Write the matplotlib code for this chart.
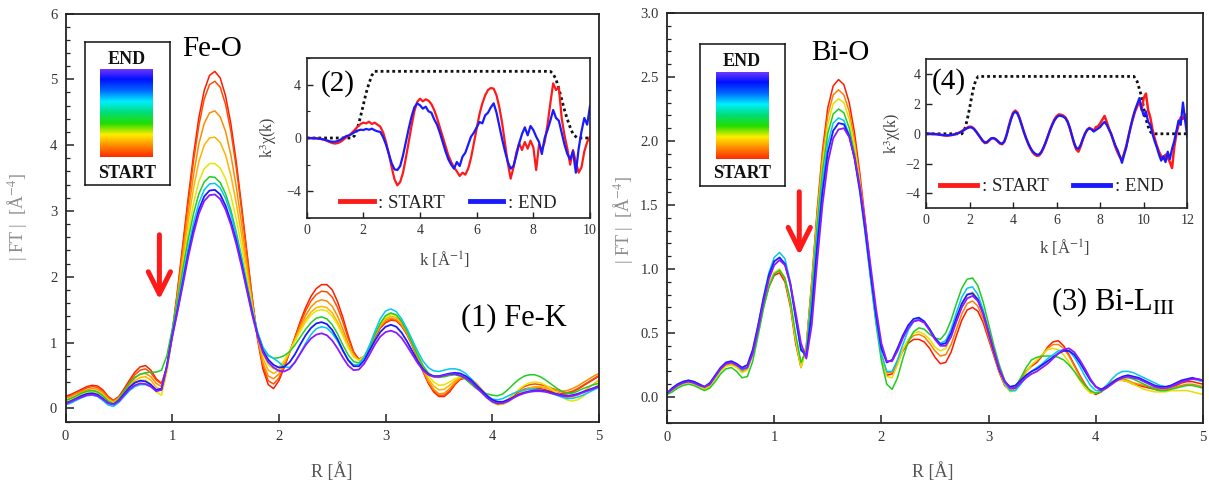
import numpy as np
import matplotlib
matplotlib.use("Agg")
import matplotlib.pyplot as plt
from matplotlib.colors import LinearSegmentedColormap
from matplotlib.lines import Line2D
from matplotlib.ticker import MultipleLocator, FormatStrFormatter

plt.rcParams['font.family'] = ['Liberation Serif', 'DejaVu Serif']
plt.rcParams['mathtext.fontset'] = 'stix'

# ---------------- data ----------------
# R grid for the Fourier transforms, 0..5 A in 0.05 steps
r_grid = np.round(np.arange(0, 5.0001, 0.05), 2)
# k grids of the two inset spectra, 0.1 steps
k_fe = np.round(np.arange(0, 10.0001, 0.1), 1)
k_bi = np.round(np.arange(0, 12.0001, 0.1), 1)

# Fe-K |FT|, START (red) -> END (violet)
fe_ft_1 = [0.18,0.21,0.25,0.29,0.33,0.35,0.34,0.28,0.18,0.12,
           0.18,0.30,0.43,0.55,0.63,0.65,0.58,0.45,0.38,0.62,
           1.15,1.80,2.50,3.20,3.85,4.42,4.83,5.06,5.12,5.02,
           4.75,4.32,3.75,3.08,2.38,1.68,1.05,0.60,0.36,0.30,
           0.42,0.62,0.85,1.08,1.32,1.53,1.70,1.82,1.88,1.88,
           1.80,1.62,1.38,1.10,0.86,0.74,0.78,0.92,1.08,1.22,
           1.30,1.34,1.33,1.25,1.12,0.95,0.76,0.56,0.38,0.25,
           0.18,0.18,0.25,0.36,0.44,0.46,0.43,0.36,0.27,0.18,
           0.11,0.07,0.08,0.13,0.19,0.25,0.29,0.31,0.31,0.30,
           0.28,0.26,0.24,0.22,0.22,0.25,0.29,0.34,0.39,0.44,
           0.49]
fe_ft_2 = [0.16,0.19,0.23,0.27,0.31,0.33,0.32,0.26,0.17,0.11,
           0.17,0.28,0.40,0.51,0.58,0.60,0.54,0.43,0.37,0.62,
           1.14,1.77,2.45,3.13,3.76,4.30,4.70,4.92,4.97,4.88,
           4.62,4.21,3.66,3.02,2.34,1.67,1.07,0.65,0.42,0.37,
           0.46,0.64,0.85,1.07,1.29,1.48,1.63,1.73,1.78,1.77,
           1.69,1.53,1.31,1.06,0.85,0.75,0.79,0.93,1.09,1.23,
           1.31,1.35,1.34,1.27,1.14,0.97,0.78,0.58,0.40,0.27,
           0.20,0.20,0.27,0.37,0.45,0.47,0.44,0.37,0.28,0.19,
           0.12,0.08,0.09,0.14,0.21,0.28,0.33,0.36,0.37,0.36,
           0.34,0.31,0.28,0.25,0.24,0.26,0.30,0.35,0.40,0.45,
           0.50]
fe_ft_3 = [0.15,0.18,0.22,0.25,0.28,0.30,0.29,0.24,0.15,0.10,
           0.16,0.26,0.37,0.46,0.52,0.53,0.48,0.38,0.33,0.60,
           1.12,1.72,2.35,2.98,3.55,4.02,4.33,4.49,4.52,4.43,
           4.21,3.85,3.37,2.81,2.20,1.60,1.07,0.69,0.49,0.45,
           0.52,0.67,0.86,1.05,1.24,1.41,1.54,1.62,1.65,1.63,
           1.55,1.40,1.20,0.98,0.80,0.73,0.79,0.94,1.11,1.25,
           1.34,1.37,1.35,1.27,1.13,0.96,0.77,0.58,0.41,0.29,
           0.22,0.23,0.30,0.39,0.46,0.48,0.45,0.38,0.29,0.20,
           0.12,0.07,0.07,0.11,0.17,0.23,0.28,0.31,0.32,0.32,
           0.31,0.29,0.27,0.26,0.27,0.30,0.34,0.39,0.44,0.49,
           0.53]
fe_ft_4 = [0.12,0.15,0.19,0.23,0.26,0.27,0.26,0.21,0.13,0.09,
           0.15,0.24,0.34,0.42,0.47,0.48,0.43,0.32,0.28,0.58,
           1.10,1.67,2.26,2.83,3.35,3.75,4.00,4.11,4.12,4.04,
           3.85,3.54,3.12,2.63,2.10,1.57,1.10,0.76,0.58,0.53,
           0.58,0.70,0.86,1.03,1.20,1.35,1.46,1.53,1.55,1.53,
           1.45,1.31,1.13,0.94,0.79,0.73,0.79,0.94,1.11,1.26,
           1.36,1.40,1.38,1.30,1.16,0.99,0.80,0.61,0.45,0.34,
           0.28,0.29,0.35,0.42,0.47,0.48,0.44,0.37,0.28,0.19,
           0.11,0.06,0.06,0.10,0.16,0.22,0.27,0.31,0.33,0.33,
           0.31,0.28,0.24,0.20,0.17,0.17,0.20,0.25,0.31,0.37,
           0.43]
fe_ft_5 = [0.10,0.13,0.17,0.21,0.24,0.25,0.24,0.19,0.12,0.08,
           0.14,0.23,0.32,0.39,0.43,0.43,0.37,0.25,0.20,0.55,
           1.08,1.62,2.17,2.68,3.12,3.45,3.64,3.72,3.72,3.65,
           3.49,3.23,2.88,2.46,2.00,1.54,1.13,0.83,0.66,0.60,
           0.63,0.73,0.87,1.02,1.17,1.31,1.42,1.48,1.50,1.48,
           1.40,1.27,1.10,0.92,0.78,0.73,0.79,0.94,1.12,1.28,
           1.39,1.43,1.41,1.33,1.19,1.02,0.83,0.65,0.50,0.40,
           0.35,0.36,0.40,0.45,0.48,0.47,0.42,0.34,0.25,0.16,
           0.09,0.05,0.07,0.13,0.21,0.29,0.35,0.39,0.40,0.39,
           0.35,0.30,0.24,0.18,0.13,0.11,0.13,0.18,0.24,0.30,
           0.36]
fe_ft_6 = [0.12,0.15,0.19,0.23,0.26,0.27,0.25,0.19,0.11,0.07,
           0.14,0.26,0.38,0.47,0.52,0.54,0.55,0.55,0.58,0.80,
           1.20,1.65,2.12,2.57,2.96,3.26,3.44,3.52,3.51,3.43,
           3.26,3.01,2.68,2.30,1.89,1.49,1.15,0.92,0.80,0.76,
           0.77,0.80,0.86,0.96,1.08,1.20,1.30,1.37,1.39,1.36,
           1.27,1.13,0.96,0.81,0.71,0.69,0.77,0.93,1.12,1.29,
           1.41,1.45,1.42,1.32,1.17,0.99,0.81,0.65,0.54,0.48,
           0.47,0.48,0.50,0.51,0.49,0.44,0.37,0.30,0.25,0.22,
           0.20,0.19,0.22,0.29,0.37,0.44,0.49,0.51,0.51,0.48,
           0.43,0.37,0.31,0.26,0.23,0.23,0.26,0.30,0.33,0.36,
           0.38]
fe_ft_7 = [0.05,0.08,0.12,0.16,0.19,0.20,0.18,0.12,0.05,0.03,
           0.09,0.18,0.27,0.33,0.36,0.36,0.33,0.27,0.30,0.65,
           1.12,1.55,2.00,2.44,2.82,3.12,3.32,3.41,3.42,3.35,
           3.19,2.95,2.64,2.28,1.88,1.49,1.16,0.93,0.81,0.76,
           0.70,0.63,0.62,0.70,0.84,0.99,1.12,1.21,1.24,1.22,
           1.14,1.02,0.87,0.74,0.66,0.67,0.78,0.96,1.17,1.36,
           1.48,1.51,1.47,1.36,1.21,1.04,0.87,0.72,0.62,0.57,
           0.56,0.58,0.60,0.60,0.58,0.53,0.45,0.36,0.27,0.19,
           0.14,0.13,0.15,0.19,0.23,0.26,0.28,0.29,0.29,0.28,
           0.26,0.23,0.20,0.17,0.15,0.15,0.17,0.20,0.24,0.28,
           0.32]
fe_ft_8 = [0.08,0.11,0.15,0.19,0.22,0.23,0.21,0.15,0.08,0.06,
           0.12,0.22,0.32,0.39,0.42,0.41,0.36,0.28,0.30,0.65,
           1.10,1.50,1.92,2.35,2.72,3.02,3.22,3.31,3.32,3.25,
           3.08,2.84,2.55,2.20,1.82,1.45,1.12,0.88,0.74,0.66,
           0.62,0.63,0.70,0.82,0.97,1.11,1.22,1.29,1.31,1.28,
           1.19,1.05,0.88,0.73,0.64,0.64,0.73,0.88,1.03,1.16,
           1.24,1.27,1.24,1.15,1.02,0.87,0.72,0.60,0.52,0.49,
           0.49,0.51,0.53,0.54,0.53,0.49,0.43,0.35,0.27,0.19,
           0.13,0.10,0.10,0.13,0.17,0.21,0.24,0.26,0.27,0.27,
           0.26,0.24,0.22,0.20,0.19,0.20,0.22,0.25,0.28,0.31,
           0.34]
fe_ft_9 = [0.07,0.10,0.14,0.17,0.20,0.21,0.19,0.14,0.08,0.06,
           0.11,0.20,0.29,0.35,0.38,0.37,0.33,0.26,0.28,0.63,
           1.08,1.47,1.88,2.30,2.66,2.96,3.15,3.24,3.25,3.18,
           3.02,2.79,2.50,2.16,1.79,1.42,1.10,0.85,0.70,0.62,
           0.57,0.56,0.60,0.70,0.83,0.96,1.06,1.12,1.14,1.11,
           1.03,0.91,0.77,0.65,0.58,0.59,0.68,0.82,0.97,1.09,
           1.16,1.18,1.15,1.07,0.95,0.82,0.69,0.58,0.51,0.48,
           0.48,0.50,0.52,0.52,0.50,0.46,0.40,0.32,0.24,0.16,
           0.10,0.07,0.08,0.11,0.16,0.20,0.23,0.25,0.26,0.26,
           0.25,0.23,0.21,0.19,0.18,0.19,0.21,0.24,0.27,0.30,
           0.33]
fe_colors = ['#ff1a00', '#ff4d00', '#ff8c00', '#ffb300', '#e6e600',
             '#22cc22', '#00c8f0', '#1a1aff', '#8c1aff']

# Bi-LIII |FT|, START (red) -> END (violet)
bi_ft_1 = [0.03,0.06,0.09,0.11,0.12,0.11,0.09,0.07,0.09,0.15,
           0.21,0.25,0.26,0.24,0.20,0.22,0.34,0.52,0.71,0.86,
           0.95,0.97,0.90,0.71,0.42,0.23,0.40,0.90,1.45,1.92,
           2.26,2.43,2.48,2.44,2.30,2.06,1.74,1.37,0.98,0.62,
           0.32,0.17,0.18,0.27,0.36,0.42,0.45,0.45,0.43,0.38,
           0.31,0.26,0.27,0.35,0.48,0.60,0.68,0.70,0.67,0.58,
           0.45,0.32,0.19,0.09,0.05,0.07,0.13,0.20,0.24,0.27,
           0.32,0.39,0.43,0.44,0.40,0.33,0.25,0.17,0.10,0.04,
           0.02,0.04,0.08,0.11,0.13,0.13,0.12,0.10,0.09,0.08,
           0.07,0.06,0.05,0.05,0.07,0.09,0.11,0.12,0.12,0.11,
           0.10]
bi_ft_2 = [0.03,0.06,0.09,0.11,0.12,0.11,0.09,0.07,0.09,0.15,
           0.21,0.25,0.26,0.24,0.20,0.22,0.34,0.53,0.73,0.88,
           0.97,0.99,0.92,0.73,0.44,0.24,0.40,0.89,1.43,1.88,
           2.20,2.36,2.40,2.36,2.23,2.00,1.70,1.34,0.97,0.62,
           0.34,0.19,0.19,0.27,0.37,0.44,0.48,0.49,0.47,0.42,
           0.36,0.32,0.33,0.41,0.53,0.65,0.73,0.75,0.71,0.61,
           0.47,0.33,0.20,0.10,0.05,0.07,0.13,0.20,0.25,0.28,
           0.33,0.38,0.41,0.41,0.38,0.32,0.24,0.16,0.09,0.04,
           0.03,0.05,0.09,0.12,0.14,0.14,0.13,0.11,0.10,0.09,
           0.08,0.07,0.06,0.06,0.07,0.08,0.09,0.10,0.10,0.09,
           0.08]
bi_ft_3 = [0.02,0.05,0.08,0.10,0.11,0.10,0.08,0.06,0.08,0.14,
           0.20,0.24,0.25,0.23,0.19,0.21,0.33,0.52,0.72,0.88,
           0.97,1.00,0.93,0.74,0.45,0.23,0.37,0.85,1.38,1.82,
           2.13,2.29,2.33,2.30,2.17,1.96,1.67,1.32,0.95,0.60,
           0.32,0.16,0.15,0.25,0.37,0.45,0.50,0.51,0.49,0.45,
           0.39,0.36,0.38,0.47,0.60,0.72,0.80,0.82,0.77,0.66,
           0.51,0.35,0.21,0.10,0.04,0.05,0.11,0.19,0.25,0.29,
           0.33,0.37,0.38,0.37,0.33,0.27,0.20,0.13,0.07,0.03,
           0.03,0.05,0.08,0.11,0.13,0.13,0.12,0.10,0.08,0.06,
           0.05,0.04,0.04,0.04,0.05,0.05,0.05,0.05,0.04,0.03,
           0.02]
bi_ft_4 = [0.02,0.04,0.07,0.09,0.10,0.09,0.07,0.05,0.07,0.12,
           0.18,0.22,0.23,0.20,0.15,0.16,0.28,0.48,0.69,0.86,
           0.96,0.99,0.93,0.76,0.49,0.27,0.36,0.82,1.34,1.76,
           2.06,2.21,2.25,2.22,2.10,1.90,1.62,1.28,0.92,0.57,
           0.28,0.10,0.06,0.15,0.30,0.43,0.51,0.54,0.53,0.49,
           0.46,0.45,0.50,0.60,0.73,0.85,0.92,0.93,0.87,0.74,
           0.57,0.40,0.25,0.13,0.07,0.08,0.15,0.23,0.29,0.31,
           0.32,0.32,0.32,0.31,0.29,0.25,0.20,0.14,0.09,0.05,
           0.03,0.04,0.07,0.11,0.14,0.15,0.15,0.14,0.12,0.10,
           0.08,0.06,0.05,0.05,0.06,0.07,0.08,0.09,0.09,0.08,
           0.07]
bi_ft_5 = [0.03,0.07,0.10,0.12,0.13,0.12,0.10,0.08,0.10,0.16,
           0.22,0.26,0.27,0.25,0.21,0.23,0.36,0.56,0.78,0.97,
           1.09,1.13,1.08,0.90,0.62,0.36,0.34,0.73,1.25,1.68,
           1.98,2.14,2.18,2.16,2.05,1.86,1.59,1.27,0.92,0.59,
           0.33,0.20,0.20,0.29,0.41,0.52,0.59,0.61,0.59,0.53,
           0.46,0.42,0.44,0.53,0.66,0.78,0.85,0.86,0.80,0.68,
           0.52,0.36,0.22,0.11,0.05,0.05,0.10,0.16,0.20,0.23,
           0.26,0.30,0.33,0.36,0.37,0.36,0.31,0.24,0.16,0.09,
           0.05,0.05,0.09,0.14,0.18,0.20,0.20,0.19,0.17,0.15,
           0.13,0.11,0.09,0.08,0.08,0.10,0.12,0.13,0.14,0.13,
           0.12]
bi_ft_6 = [0.03,0.07,0.10,0.12,0.13,0.12,0.10,0.08,0.11,0.17,
           0.23,0.27,0.28,0.26,0.23,0.25,0.37,0.56,0.77,0.95,
           1.06,1.09,1.04,0.88,0.62,0.37,0.32,0.66,1.17,1.60,
           1.91,2.08,2.14,2.13,2.04,1.86,1.61,1.30,0.96,0.64,
           0.38,0.27,0.29,0.38,0.48,0.56,0.61,0.62,0.59,0.53,
           0.46,0.41,0.42,0.50,0.62,0.73,0.80,0.81,0.76,0.65,
           0.50,0.35,0.21,0.12,0.08,0.09,0.13,0.17,0.20,0.22,
           0.25,0.28,0.31,0.34,0.36,0.36,0.33,0.27,0.20,0.13,
           0.08,0.06,0.08,0.11,0.14,0.16,0.17,0.16,0.15,0.13,
           0.11,0.09,0.08,0.08,0.09,0.11,0.13,0.14,0.15,0.14,
           0.13]
bi_ft_7 = [0.03,0.06,0.09,0.11,0.12,0.11,0.09,0.08,0.10,0.16,
           0.22,0.26,0.27,0.25,0.22,0.23,0.34,0.53,0.74,0.92,
           1.03,1.07,1.03,0.89,0.66,0.42,0.30,0.56,1.05,1.50,
           1.83,2.02,2.09,2.10,2.03,1.87,1.64,1.35,1.02,0.69,
           0.42,0.28,0.28,0.36,0.46,0.54,0.59,0.60,0.58,0.52,
           0.45,0.40,0.40,0.47,0.59,0.70,0.77,0.79,0.75,0.65,
           0.51,0.36,0.22,0.12,0.07,0.07,0.11,0.15,0.18,0.20,
           0.23,0.26,0.30,0.34,0.37,0.38,0.35,0.29,0.22,0.14,
           0.08,0.05,0.07,0.10,0.13,0.15,0.16,0.15,0.14,0.12,
           0.10,0.08,0.07,0.07,0.08,0.10,0.12,0.13,0.14,0.14,
           0.13]
bi_colors = ['#ff1a00', '#ff8000', '#e6e000', '#22cc22',
             '#00c8f0', '#1a1aff', '#8c1aff']

# inset (2): Fe-K k^3 chi(k)
fe_chi_start = [0.00,0.00,-0.01,-0.02,-0.04,-0.07,-0.12,-0.20,-0.30,-0.38,
                -0.42,-0.38,-0.28,-0.12,0.05,0.20,0.40,0.62,0.85,1.05,
                1.15,1.10,1.22,1.05,1.15,1.00,0.85,0.40,-0.30,-1.20,
                -2.20,-3.10,-3.55,-3.30,-2.60,-1.50,-0.30,0.90,2.00,2.70,
                2.95,2.75,2.90,2.80,2.55,2.10,1.50,0.80,0.10,-0.60,
                -1.30,-1.80,-2.20,-2.50,-2.85,-2.60,-2.75,-2.30,-1.50,-0.40,
                0.70,1.80,2.60,3.20,3.60,3.75,3.70,3.20,2.30,1.10,
                -0.40,-1.90,-3.05,-2.20,-1.10,-0.40,-0.90,-0.30,-0.80,-0.20,
                -0.70,-2.40,-0.50,-0.90,-0.30,1.00,2.60,4.10,3.60,3.80,
                1.50,0.20,-0.80,-2.00,-0.90,-1.80,-2.60,-2.20,-1.00,-0.30,
                0.10]
fe_chi_end = [0.00,0.00,-0.01,-0.02,-0.04,-0.07,-0.11,-0.17,-0.24,-0.28,
              -0.28,-0.22,-0.12,0.02,0.15,0.20,0.32,0.45,0.55,0.62,
              0.60,0.68,0.62,0.70,0.58,0.50,0.45,0.05,-0.50,-1.20,
              -1.90,-2.35,-2.40,-2.10,-1.30,-0.30,0.70,1.60,2.30,2.60,
              2.45,2.20,2.35,2.00,1.90,1.40,1.00,0.40,-0.30,-1.00,
              -1.60,-2.00,-2.30,-1.80,-2.10,-1.40,-1.10,-0.50,0.10,0.40,
              0.80,1.20,1.10,1.70,1.90,2.30,2.60,1.90,0.90,-0.10,
              -1.00,-1.80,-2.30,-2.10,-1.30,-0.40,0.30,0.80,0.20,0.90,
              0.60,0.10,-0.30,-1.20,0.00,0.60,1.30,2.10,1.50,1.30,
              0.40,-0.50,-1.20,-1.60,-1.00,-2.60,-0.80,0.50,1.50,1.00,
              2.40]
fe_win_k = [0, 1.6, 1.7, 1.8, 1.9, 2.0, 2.1, 2.2, 2.3, 2.4,
            8.6, 8.7, 8.8, 8.9, 9.0, 9.1, 9.2, 9.3, 9.4, 9.55, 10]
fe_win_y = [0, 0, 0.2, 0.8, 1.6, 2.5, 3.4, 4.1, 4.7, 5.0,
            5.0, 4.8, 4.4, 3.7, 2.9, 2.1, 1.4, 0.8, 0.3, 0, 0]

# inset (4): Bi-LIII k^3 chi(k)
bi_chi_start = [0.00,0.00,0.00,-0.01,-0.02,-0.03,-0.05,-0.08,-0.10,-0.12,
                -0.12,-0.10,-0.08,-0.05,0.00,0.06,0.14,0.23,0.33,0.42,
                0.48,0.46,0.35,0.16,-0.05,-0.27,-0.48,-0.62,-0.60,-0.45,
                -0.32,-0.30,-0.38,-0.52,-0.66,-0.70,-0.52,-0.08,0.50,1.02,
                1.42,1.56,1.42,1.05,0.58,0.10,-0.32,-0.70,-1.00,-1.25,
                -1.40,-1.48,-1.45,-1.25,-0.95,-0.58,-0.15,0.28,0.65,0.97,
                1.18,1.30,1.28,1.22,1.10,0.85,0.42,-0.12,-0.65,-1.05,
                -1.20,-0.85,-0.40,0.00,0.28,0.40,0.32,0.20,0.45,0.50,
                0.70,0.95,1.20,0.80,0.35,0.00,-0.45,-0.90,-1.25,-1.55,
                -1.75,-1.30,-0.80,-0.15,0.45,1.00,1.50,1.85,2.20,1.60,
                2.40,2.70,1.60,1.10,0.30,-0.30,-0.80,-1.20,-1.50,-1.70,
                -1.40,-1.60,-1.90,-2.30,-0.90,0.00,0.60,1.10,1.00,1.30,
                0.20]
bi_chi_end = [0.00,0.00,0.00,-0.01,-0.02,-0.03,-0.05,-0.07,-0.09,-0.10,
              -0.10,-0.09,-0.07,-0.04,0.00,0.05,0.12,0.20,0.30,0.38,
              0.43,0.42,0.32,0.15,-0.05,-0.25,-0.45,-0.58,-0.55,-0.42,
              -0.30,-0.28,-0.35,-0.48,-0.62,-0.66,-0.50,-0.10,0.45,0.95,
              1.35,1.48,1.35,1.00,0.55,0.10,-0.30,-0.65,-0.95,-1.18,
              -1.32,-1.40,-1.38,-1.20,-0.90,-0.55,-0.15,0.25,0.60,0.90,
              1.10,1.22,1.20,1.15,1.05,0.80,0.40,-0.10,-0.60,-0.95,
              -1.00,-0.75,-0.35,0.00,0.25,0.35,0.30,0.15,0.25,0.35,
              0.45,0.65,0.80,0.60,0.30,0.00,-0.40,-0.80,-1.10,-1.50,
              -1.95,-1.40,-0.90,-0.20,0.50,1.10,1.60,2.00,2.40,1.70,
              1.20,1.50,0.80,0.60,0.00,-0.50,-0.90,-1.40,-1.80,-1.50,
              -1.90,-1.20,-1.70,-1.00,-0.50,0.20,0.90,0.60,2.10,0.90,
              -0.20]
bi_win_k = [0, 1.65, 1.8, 1.9, 2.0, 2.1, 2.2, 2.3, 2.4,
            9.55, 9.7, 9.8, 9.9, 10.0, 10.1, 10.2, 10.3, 10.4, 12]
bi_win_y = [0, 0, 0.4, 1.0, 1.7, 2.5, 3.2, 3.65, 3.85,
            3.85, 3.5, 3.0, 2.5, 1.7, 1.0, 0.5, 0.15, 0, 0]

rainbow = LinearSegmentedColormap.from_list(
    'startend', ['#ff2a00', '#ff8800', '#ffee00', '#22dd00', '#00dd77',
                 '#00eeff', '#0066ff', '#0010ff', '#7a3cff'])

# ---------------- figure ----------------
W, H = 1209, 482
fig = plt.figure(figsize=(W / 100, H / 100), dpi=100)


def box(x0, y0, x1, y1):
    # pixel box (top-left origin) -> figure fraction rect
    return [x0 / W, 1 - y1 / H, (x1 - x0) / W, (y1 - y0) / H]


def style_main(ax):
    for s in ax.spines.values():
        s.set_linewidth(1.3)
        s.set_color('#222222')
    ax.tick_params(which='both', direction='in', top=False, right=False,
                   labelsize=10.5, labelcolor='#333333', colors='#222222')
    ax.tick_params(which='major', length=6, width=1.1, pad=6)
    ax.tick_params(which='minor', length=3, width=0.9)


def style_inset(ax):
    for s in ax.spines.values():
        s.set_linewidth(1.2)
        s.set_color('#222222')
    ax.tick_params(which='both', direction='in', top=False, right=False,
                   labelsize=10, labelcolor='#333333', colors='#222222')
    ax.tick_params(which='major', length=4, width=1, pad=4)
    ax.tick_params(which='minor', length=2.5, width=0.8)


# ---- panel (1) Fe-K ----
ax1 = fig.add_axes(box(65.5, 13.5, 599, 421.5))
for c, y in zip(fe_colors, [fe_ft_1, fe_ft_2, fe_ft_3, fe_ft_4, fe_ft_5,
                            fe_ft_6, fe_ft_7, fe_ft_8, fe_ft_9]):
    ax1.plot(r_grid, y, color=c, lw=1.3 if c in ('#1a1aff', '#8c1aff') else 1.1)
ax1.set_xlim(0, 5)
ax1.set_ylim(-0.2, 6)
ax1.set_xticks(range(6))
ax1.set_yticks(range(7))
ax1.yaxis.set_minor_locator(MultipleLocator(0.2))
style_main(ax1)
ax1.set_xlabel('R [Å]', fontsize=13, color='#555555')
ax1.xaxis.set_label_coords(0.499, -0.099)
ax1.set_ylabel('| FT |  [Å$^{-4}$]', fontsize=13, color='#8c8c8c')
ax1.yaxis.set_label_coords(-0.068, 0.50)
ax1.annotate('', xy=(0.88, 1.61), xytext=(0.88, 2.68),
             arrowprops=dict(arrowstyle='->,head_length=0.8,head_width=0.4',
                             color='#ff1a1a', lw=3.6, mutation_scale=20))

# ---- panel (3) Bi-LIII ----
ax2 = fig.add_axes(box(667, 13, 1203, 422.6))
for c, y in zip(bi_colors, [bi_ft_1, bi_ft_2, bi_ft_3, bi_ft_4, bi_ft_5,
                            bi_ft_6, bi_ft_7]):
    ax2.plot(r_grid, y, color=c, lw=1.3 if c in ('#1a1aff', '#8c1aff') else 1.1)
ax2.set_xlim(0, 5)
ax2.set_ylim(-0.2, 3.0)
ax2.set_xticks(range(6))
ax2.set_yticks(np.arange(0, 3.01, 0.5))
ax2.yaxis.set_major_formatter(FormatStrFormatter('%.1f'))
ax2.yaxis.set_minor_locator(MultipleLocator(0.1))
style_main(ax2)
ax2.set_xlabel('R [Å]', fontsize=13, color='#555555')
ax2.xaxis.set_label_coords(0.496, -0.096)
ax2.set_ylabel('| FT |  [Å$^{-4}$]', fontsize=13, color='#8c8c8c')
ax2.yaxis.set_label_coords(-0.059, 0.495)
ax2.annotate('', xy=(1.234, 1.086), xytext=(1.234, 1.625),
             arrowprops=dict(arrowstyle='->,head_length=0.8,head_width=0.4',
                             color='#ff1a1a', lw=3.6, mutation_scale=20))

# ---- insets ----
leg_handles = [Line2D([], [], color='#ff1a1a', lw=3.5),
               Line2D([], [], color='#1a1aff', lw=3.5)]

axi1 = fig.add_axes(box(306.7, 58, 590, 218))
axi1.plot(fe_win_k, fe_win_y, color='#111111', lw=2, ls=(0, (1, 1.1)))
axi1.plot(k_fe, fe_chi_start, color='#ff1a1a', lw=1.6)
axi1.plot(k_fe, fe_chi_end, color='#1a1aff', lw=1.6)
axi1.set_xlim(0, 10)
axi1.set_ylim(-6, 6)
axi1.set_xticks(range(0, 11, 2))
axi1.set_yticks([-4, 0, 4])
axi1.yaxis.set_minor_locator(MultipleLocator(2))
style_inset(axi1)
axi1.set_xlabel('k [Å$^{-1}$]', fontsize=12, color='#444444')
axi1.xaxis.set_label_coords(0.485, -0.2)
axi1.set_ylabel('k$^{3}$χ(k)', fontsize=11.5, color='#444444')
axi1.yaxis.set_label_coords(-0.098, 0.506)
axi1.legend(leg_handles, [': START', ': END'], loc='center',
            bbox_to_anchor=(0.5, 0.094), ncol=2, frameon=False,
            fontsize=13.5, handlelength=1.8, handletextpad=0.25,
            columnspacing=1.3, borderpad=0, labelcolor='#222222')

axi2 = fig.add_axes(box(926, 59.3, 1187.3, 208.3))
axi2.plot(bi_win_k, bi_win_y, color='#111111', lw=2, ls=(0, (1, 1.1)))
axi2.plot(k_bi, bi_chi_start, color='#ff1a1a', lw=1.8)
axi2.plot(k_bi, bi_chi_end, color='#1a1aff', lw=1.6)
axi2.set_xlim(0, 12)
axi2.set_ylim(-5, 5)
axi2.set_xticks(range(0, 13, 2))
axi2.set_yticks([-4, -2, 0, 2, 4])
style_inset(axi2)
axi2.set_xlabel('k [Å$^{-1}$]', fontsize=12, color='#444444')
axi2.xaxis.set_label_coords(0.532, -0.2)
axi2.set_ylabel('k$^{3}$χ(k)', fontsize=11.5, color='#444444')
axi2.yaxis.set_label_coords(-0.089, 0.505)
axi2.legend(leg_handles, [': START', ': END'], loc='center',
            bbox_to_anchor=(0.481, 0.145), ncol=2, frameon=False,
            fontsize=13.5, handlelength=2.0, handletextpad=0.25,
            columnspacing=1.3, borderpad=0, labelcolor='#222222')

# ---- START/END colour keys ----
gradient = np.linspace(0, 1, 256).reshape(-1, 1)
for frame, bar, cx, y_end, y_start in [
        ((84.6, 42, 169.7, 185), (100, 69, 153, 157), 127, 59, 173),
        ((700, 44.3, 785.3, 186), (715.7, 71.7, 767.9, 159), 742, 62, 174)]:
    axb = fig.add_axes(box(*frame))
    axb.set_xticks([])
    axb.set_yticks([])
    for s in axb.spines.values():
        s.set_linewidth(1.1)
        s.set_color('#111111')
    axg = fig.add_axes(box(*bar))
    axg.imshow(gradient, aspect='auto', cmap=rainbow, origin='lower')
    axg.set_axis_off()
    fig.text(cx / W, 1 - y_end / H, 'END', fontsize=13, fontweight='bold',
             ha='center', va='center', color='#111111')
    fig.text(cx / W, 1 - y_start / H, 'START', fontsize=13, fontweight='bold',
             ha='center', va='center', color='#111111')

# ---- panel annotations ----
fig.text(212 / W, 1 - 49 / H, 'Fe-O', fontsize=21, ha='center', va='center')
fig.text(338 / W, 1 - 84 / H, '(2)', fontsize=21, ha='center', va='center')
fig.text(514 / W, 1 - 318 / H, '(1) Fe-K', fontsize=22, ha='center', va='center')
fig.text(840 / W, 1 - 53 / H, 'Bi-O', fontsize=21, ha='center', va='center')
fig.text(949 / W, 1 - 82 / H, '(4)', fontsize=21, ha='center', va='center')
fig.text(1113 / W, 1 - 302 / H, '(3) Bi-L$_{\\mathrm{III}}$', fontsize=22,
         ha='center', va='center')

fig.savefig('out.png', dpi=100)
